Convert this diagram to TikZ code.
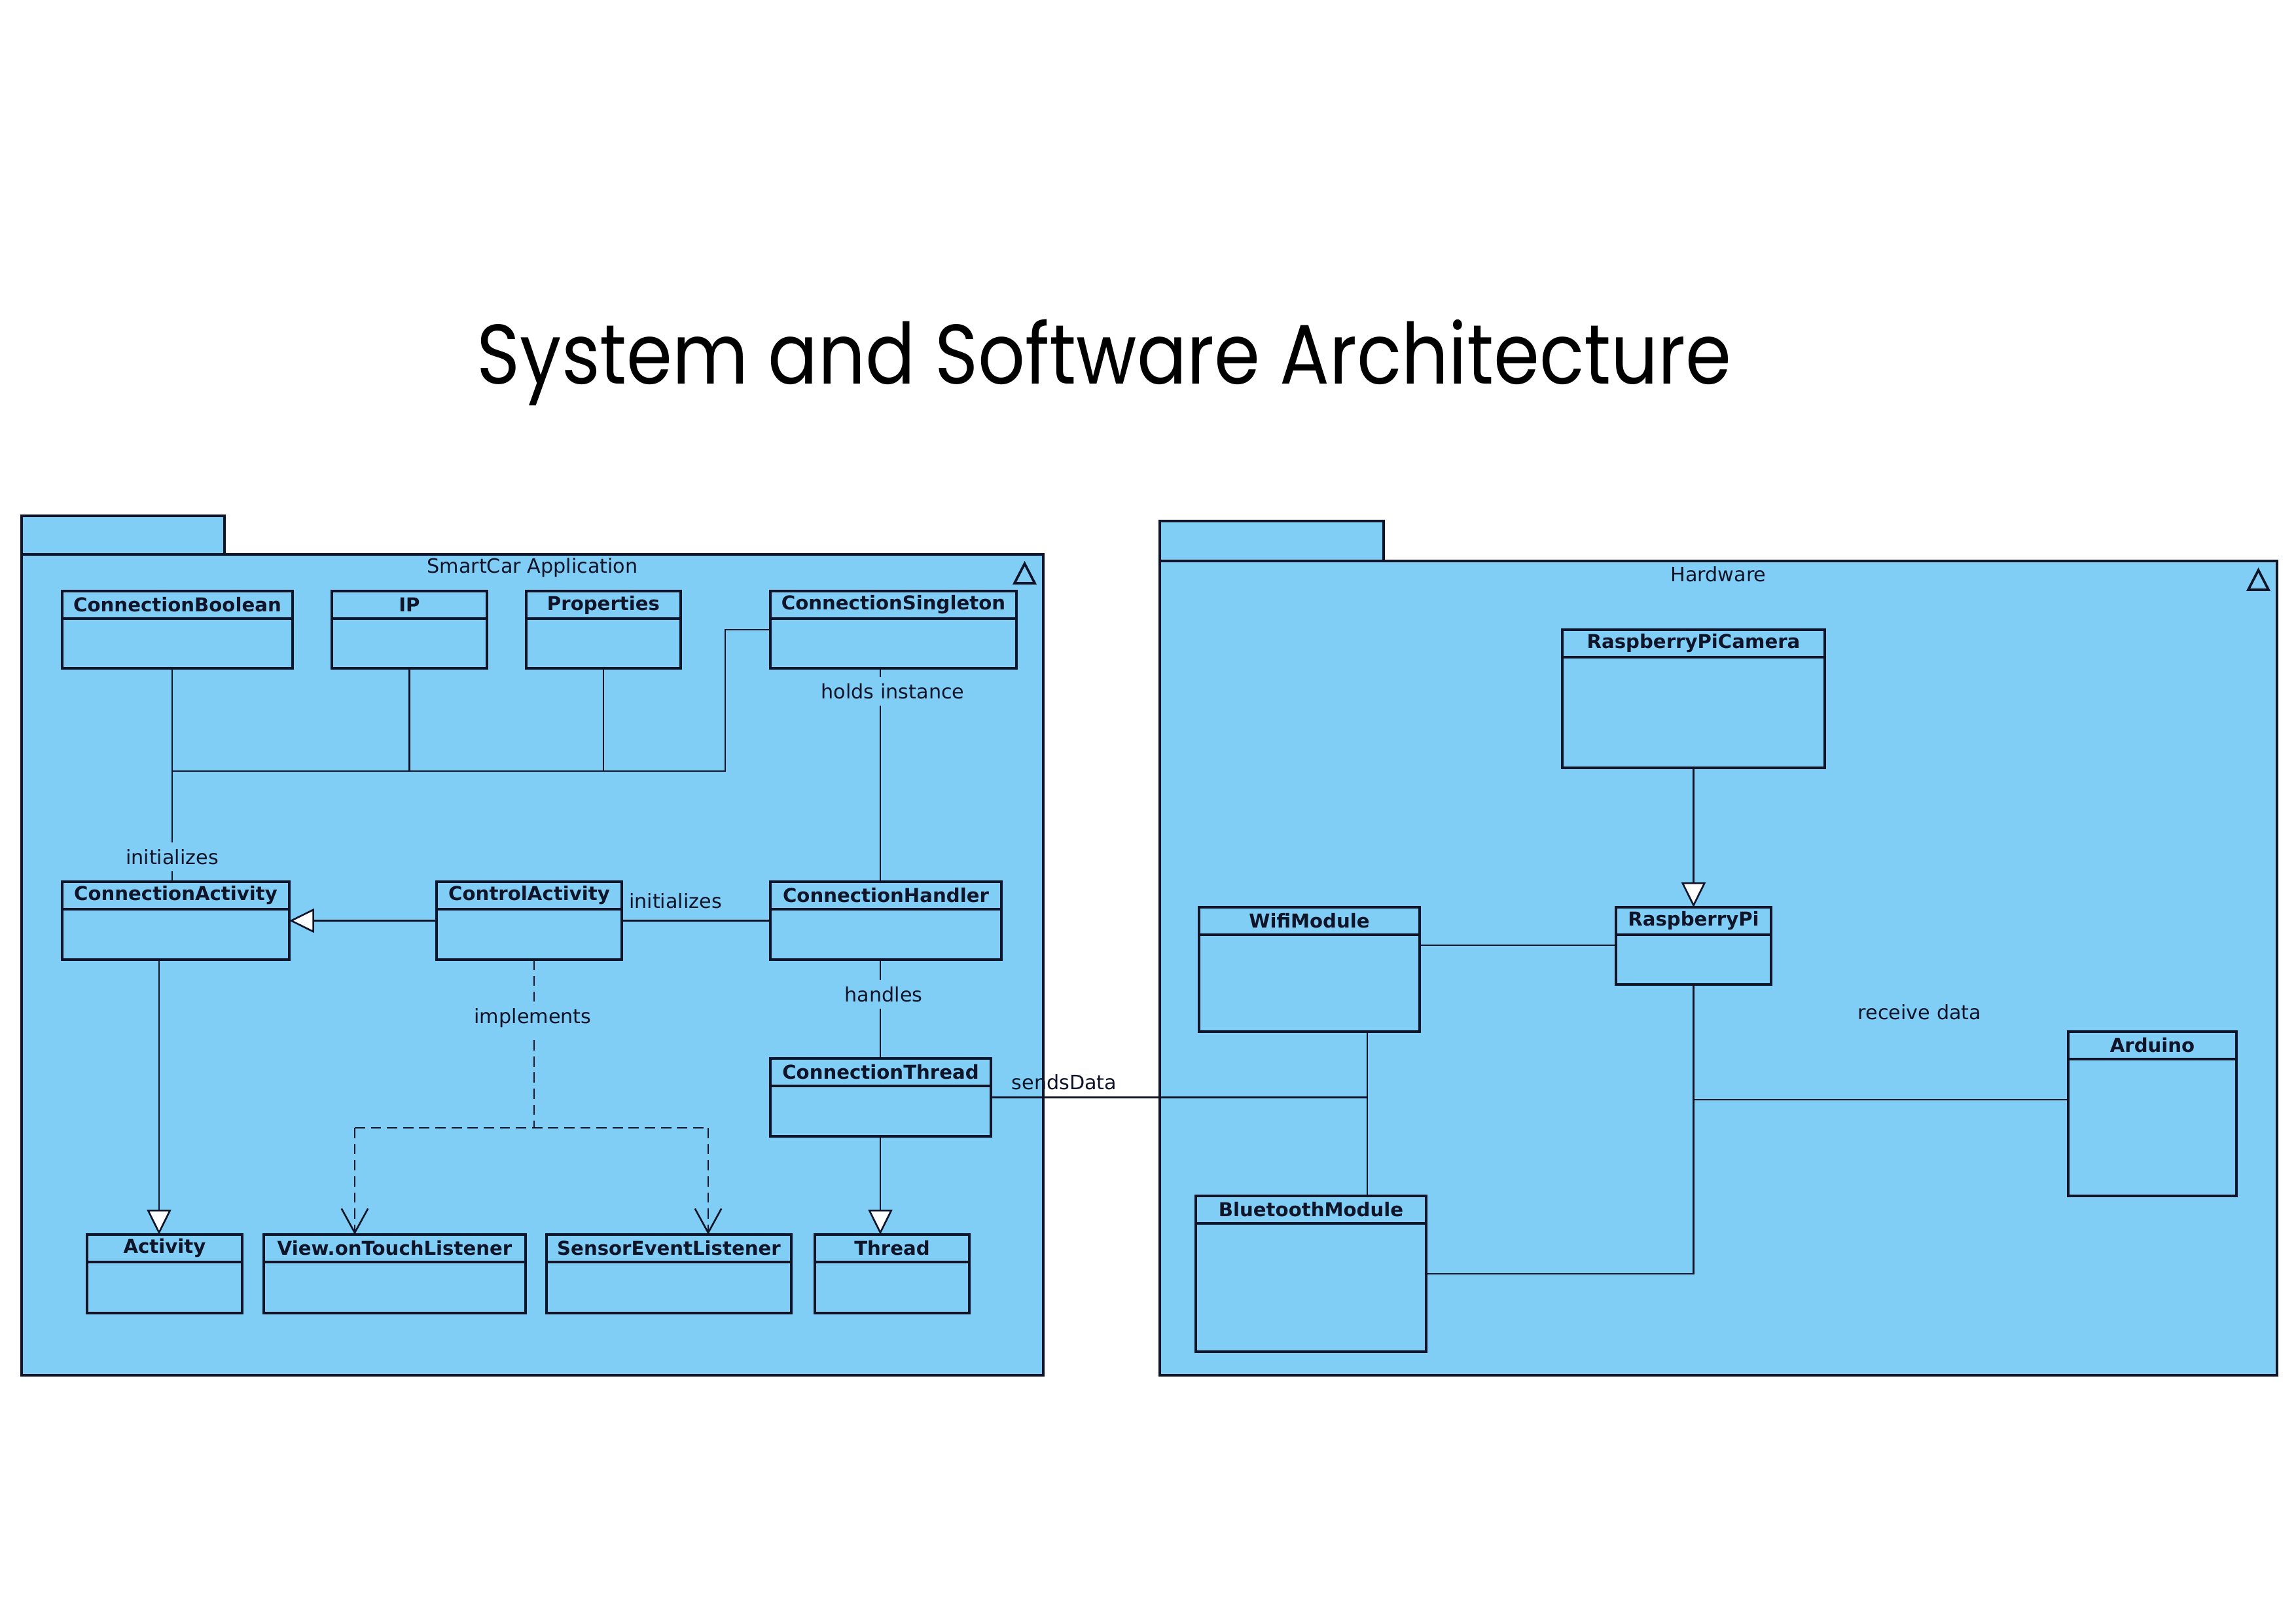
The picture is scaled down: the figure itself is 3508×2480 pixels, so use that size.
\documentclass[tikz,border=0pt]{standalone}
\usepackage{fontspec}
\usepackage{graphicx}
\usetikzlibrary{arrows.meta,fit}
\newfontfamily\umlfont{DejaVu Sans}
\newfontfamily\titlefont{Poppins}
\definecolor{pkgblue}{RGB}{128,205,245}
\definecolor{ink}{RGB}{16,20,40}
\tikzset{
 pkgbox/.style={draw=ink, fill=pkgblue, line width=1.05pt, inner sep=0pt, outer sep=0pt},
 clsbox/.style={draw=ink, fill=pkgblue, line width=1.05pt, inner sep=0pt, outer sep=0pt},
 clsline/.style={draw=ink, line width=1.05pt},
 clstitle/.style={font=\umlfont\bfseries\fontsize{8.3}{10}\selectfont, text=ink, inner sep=0pt},
 conn/.style={draw=ink, line width=0.75pt},
 lbl/.style={font=\umlfont\fontsize{8.6}{10}\selectfont, text=ink, inner sep=0pt},
 gaplbl/.style={lbl, fill=pkgblue, inner sep=3pt},
 gen/.style={conn, -{Triangle[length=10.8pt, width=10.5pt, fill=white]}},
 dep/.style={conn, dash pattern=on 4.5pt off 2.5pt},
 real/.style={dep, -{Straight Barb[length=10.5pt, width=11.5pt]}},
}
\newcommand\umlcls[6]{%
 \node[clsbox, fit={(#2,#3) (#4,#5)}] (#1) {};
 \draw[clsline] (#1.north west) ++(0,42) -- ++(#4-#2,0);
 \path (#1.north) ++(0,21) node[clstitle] (#1-t) {#6};
}
\begin{document}
\begin{tikzpicture}[x=0.01cm, y=-0.01cm]
\fill[white] (0,0) rectangle (3508,2480);
\useasboundingbox (0,0) rectangle (3508,2480);

% title
\node[anchor=base, inner sep=0pt] (title) at (1687,586)
  {\resizebox{545pt}{28pt}{\titlefont System and Software Architecture}};

% packages
\node[pkgbox, fit={(33,788) (343,847)}] (apptab) {};
\node[pkgbox, fit={(33,847) (1594,2101)}] (app) {};
\path (app.north) ++(0,20) node[lbl] (app-t) {SmartCar Application};
\draw[clsline] (app.north east) ++(-44,44) -- ++(15.5,-30) -- ++(15.5,30) -- cycle;

\node[pkgbox, fit={(1772,796) (2114,857)}] (hwtab) {};
\node[pkgbox, fit={(1772,857) (3479,2101)}] (hw) {};
\path (hw.north) ++(0,20) node[lbl] (hw-t) {Hardware};
\draw[clsline] (hw.north east) ++(-44,44) -- ++(15.5,-30) -- ++(15.5,30) -- cycle;

% application classes
\umlcls{cb}{95}{903}{447}{1021}{ConnectionBoolean}
\umlcls{ip}{507}{903}{744}{1021}{IP}
\umlcls{props}{804}{903}{1040}{1021}{Properties}
\umlcls{cs}{1177}{903}{1553}{1021}{ConnectionSingleton}
\umlcls{ca}{95}{1347}{442}{1466}{ConnectionActivity}
\umlcls{ctl}{667}{1347}{950}{1466}{ControlActivity}
\umlcls{ch}{1177}{1347}{1530}{1466}{ConnectionHandler}
\umlcls{ct}{1177}{1617}{1514}{1736}{ConnectionThread}
\umlcls{act}{133}{1886}{370}{2006}{Activity}
\umlcls{view}{403}{1886}{803}{2006}{View.onTouchListener}
\umlcls{sel}{835}{1886}{1209}{2006}{SensorEventListener}
\umlcls{thr}{1245}{1886}{1481}{2006}{Thread}

% hardware classes
\umlcls{cam}{2387}{962}{2788}{1173}{RaspberryPiCamera}
\umlcls{wifi}{1832}{1386}{2169}{1576}{WifiModule}
\umlcls{rpi}{2469}{1386}{2706}{1504}{RaspberryPi}
\umlcls{bt}{1827}{1827}{2179}{2065}{BluetoothModule}
\umlcls{ard}{3160}{1576}{3417}{1827}{Arduino}

% helper coordinates
\coordinate (busL) at (263,1178);
\coordinate (busR) at (1108,1178);
\coordinate (hx) at (1345,0);
\coordinate (ax) at (243,0);
\coordinate (ix) at (816,1723);
\coordinate (vj) at (542,1723);
\coordinate (sj) at (1082,1723);
\coordinate (wbx) at (2089,1680);
\coordinate (wry) at (0,1444);
\coordinate (rax) at (2587,1680);

% application connectors
\draw[conn] (cb.south -| busL) -- (ca.north -| busL);
\draw[conn] (busL) -- (busR) |- (cs.west);
\draw[conn] (ip.south) -- (ip.south |- busL);
\draw[conn] (props.south) -- (props.south |- busL);
\draw[conn] (cs.south -| hx) -- (ch.north -| hx);
\draw[conn] (ch.south -| hx) -- (ct.north -| hx);
\draw[gen] (ctl.west) -- (ca.east);
\draw[conn] (ctl.east) -- (ch.west);
\draw[gen] (ca.south -| ax) -- (act.north -| ax);
\draw[gen] (ct.south -| hx) -- (thr.north -| hx);
\draw[dep] (ctl.south -| ix) -- (ix);
\draw[dep] (vj) -- (sj);
\draw[real] (vj) -- (view.north -| vj);
\draw[real] (sj) -- (sel.north -| sj);

% cross connector
\draw[conn] (ct.east) -- (ct.east -| wbx);

% hardware connectors
\draw[conn] (wifi.south -| wbx) -- (bt.north -| wbx);
\draw[gen] (cam.south) -- (rpi.north);
\draw[conn] (wifi.east |- wry) -- (rpi.west |- wry);
\draw[conn] (rpi.south) |- (bt.east);
\draw[conn] (rax) -- (ard.west |- rax);

% labels
\node[gaplbl] (l-init1) at (263,1309) {initializes};
\node[gaplbl] (l-holds) at (1364,1056) {holds instance};
\node[gaplbl] (l-handles) at (1350,1519) {handles};
\node[gaplbl] (l-impl) at (814,1555) {implements};
\node[lbl] (l-init2) at (1032,1376) {initializes};
\node[lbl] (l-sends) at (1626,1653) {sendsData};
\node[lbl] (l-recv) at (2933,1546) {receive data};
\end{tikzpicture}
\end{document}
